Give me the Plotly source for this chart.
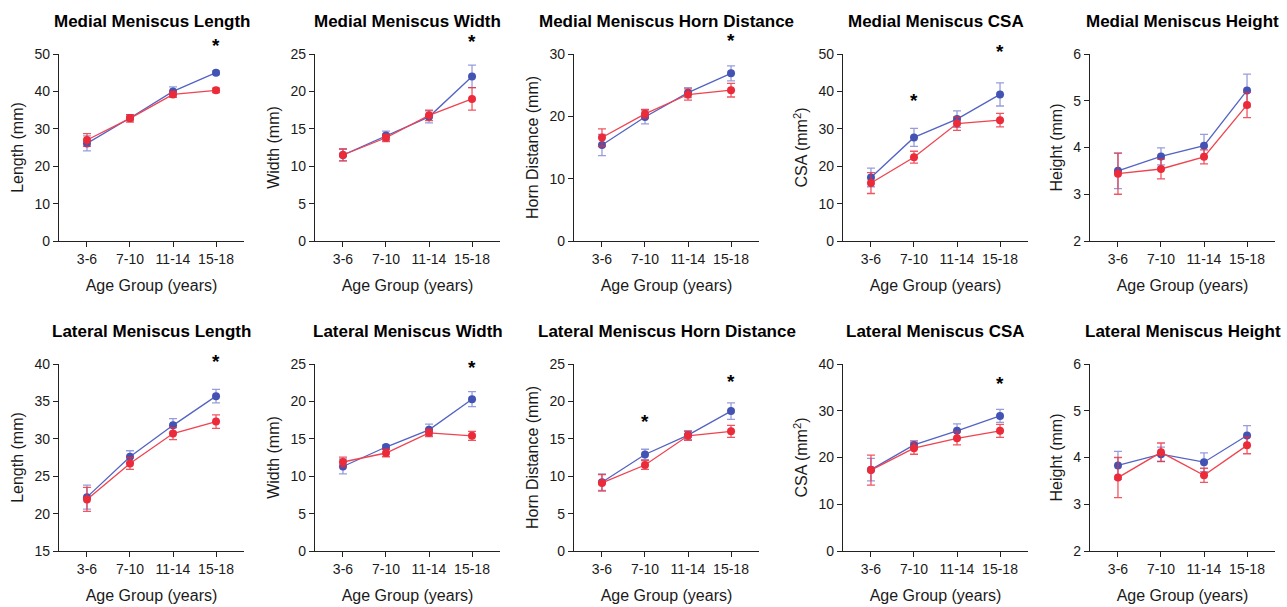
import plotly.graph_objects as go

categories = ["3-6", "7-10", "11-14", "15-18"]

titles = [
    "Medial Meniscus Length", "Medial Meniscus Width", "Medial Meniscus Horn Distance",
    "Medial Meniscus CSA", "Medial Meniscus Height",
    "Lateral Meniscus Length", "Lateral Meniscus Width", "Lateral Meniscus Horn Distance",
    "Lateral Meniscus CSA", "Lateral Meniscus Height",
]
y_titles = ["Length (mm)", "Width (mm)", "Horn Distance (mm)", "CSA (mm<sup>2</sup>)", "Height (mm)",
            "Length (mm)", "Width (mm)", "Horn Distance (mm)", "CSA (mm<sup>2</sup>)", "Height (mm)"]
x_title = "Age Group (years)"

# y-axis ranges and tick steps
y_ranges = [(0, 50), (0, 25), (0, 30), (0, 50), (2, 6),
            (15, 40), (0, 25), (0, 25), (0, 40), (2, 6)]
y_dticks = [10, 5, 10, 10, 1, 5, 5, 5, 10, 1]

# blue group: means and error
blue_mm_length = [26.1, 32.9, 40.0, 45.0]
blue_mm_length_err = [2.0, 0.8, 1.2, 0.5]
red_mm_length = [27.0, 32.8, 39.2, 40.3]
red_mm_length_err = [1.7, 1.0, 0.8, 0.6]

blue_mm_width = [11.5, 14.1, 16.6, 22.0]
blue_mm_width_err = [0.8, 0.6, 0.8, 1.5]
red_mm_width = [11.5, 13.8, 16.8, 19.0]
red_mm_width_err = [0.8, 0.5, 0.7, 1.5]

blue_mm_horn = [15.4, 19.9, 23.8, 26.9]
blue_mm_horn_err = [1.7, 1.1, 0.8, 1.2]
red_mm_horn = [16.6, 20.4, 23.5, 24.2]
red_mm_horn_err = [1.4, 0.7, 0.9, 1.1]

blue_mm_csa = [17.0, 27.7, 32.6, 39.2]
blue_mm_csa_err = [2.5, 2.4, 2.2, 3.1]
red_mm_csa = [15.5, 22.4, 31.4, 32.3]
red_mm_csa_err = [2.8, 1.6, 1.8, 1.8]

blue_mm_height = [3.50, 3.81, 4.04, 5.22]
blue_mm_height_err = [0.38, 0.18, 0.24, 0.35]
red_mm_height = [3.44, 3.54, 3.80, 4.91]
red_mm_height_err = [0.44, 0.21, 0.15, 0.27]

blue_lm_length = [22.2, 27.6, 31.8, 35.7]
blue_lm_length_err = [1.6, 0.8, 0.9, 0.9]
red_lm_length = [21.9, 26.7, 30.7, 32.3]
red_lm_length_err = [1.6, 0.8, 0.8, 0.9]

blue_lm_width = [11.3, 13.9, 16.2, 20.3]
blue_lm_width_err = [1.0, 0.3, 0.75, 1.0]
red_lm_width = [11.9, 13.1, 15.8, 15.4]
red_lm_width_err = [0.65, 0.5, 0.5, 0.6]

blue_lm_horn = [9.2, 12.9, 15.5, 18.7]
blue_lm_horn_err = [1.1, 0.7, 0.6, 1.1]
red_lm_horn = [9.1, 11.5, 15.4, 16.0]
red_lm_horn_err = [1.1, 0.6, 0.6, 0.8]

blue_lm_csa = [17.4, 22.7, 25.7, 28.9]
blue_lm_csa_err = [2.4, 0.9, 1.5, 1.4]
red_lm_csa = [17.3, 22.0, 24.1, 25.7]
red_lm_csa_err = [3.2, 1.3, 1.4, 1.4]

blue_lm_height = [3.83, 4.07, 3.90, 4.47]
blue_lm_height_err = [0.30, 0.15, 0.20, 0.21]
red_lm_height = [3.57, 4.11, 3.62, 4.26]
red_lm_height_err = [0.43, 0.20, 0.15, 0.18]

blue_means = [blue_mm_length, blue_mm_width, blue_mm_horn, blue_mm_csa, blue_mm_height,
              blue_lm_length, blue_lm_width, blue_lm_horn, blue_lm_csa, blue_lm_height]
blue_errs = [blue_mm_length_err, blue_mm_width_err, blue_mm_horn_err, blue_mm_csa_err, blue_mm_height_err,
             blue_lm_length_err, blue_lm_width_err, blue_lm_horn_err, blue_lm_csa_err, blue_lm_height_err]
red_means = [red_mm_length, red_mm_width, red_mm_horn, red_mm_csa, red_mm_height,
             red_lm_length, red_lm_width, red_lm_horn, red_lm_csa, red_lm_height]
red_errs = [red_mm_length_err, red_mm_width_err, red_mm_horn_err, red_mm_csa_err, red_mm_height_err,
            red_lm_length_err, red_lm_width_err, red_lm_horn_err, red_lm_csa_err, red_lm_height_err]

# significance markers: (panel index, category, y value)
sig_panels = [0, 1, 2, 3, 3, 5, 6, 7, 7, 8]
sig_categories = ["15-18", "15-18", "15-18", "7-10", "15-18", "15-18", "15-18", "7-10", "15-18", "15-18"]
sig_y = [53.2, 27.1, 32.6, 38.3, 51.6, 40.7, 24.9, 17.7, 23.0, 36.4]

# ---------------- layout geometry ----------------
W, H = 1287, 607
col_left = [59, 315, 574, 843, 1090]
panel_w = 185
row_top = [54, 364]
panel_h = 187

BLUE = "#4353B3"
BLUE_LINE = "#5363C3"
BLUE_ERR = "rgba(95,105,200,0.65)"
RED = "#EC2B3A"
RED_LINE = "#F0424F"
RED_ERR = "rgba(236,43,58,0.8)"
TXT = "#1a1a1a"
FONT = "Liberation Sans, Arial, sans-serif"

fig = go.Figure()
layout = dict(
    width=W, height=H, margin=dict(l=0, r=0, t=0, b=0),
    paper_bgcolor="white", plot_bgcolor="white", showlegend=False,
    font=dict(family=FONT, color=TXT, size=14),
)
annotations = []

for i in range(10):
    r, c = divmod(i, 5)
    n = "" if i == 0 else str(i + 1)
    xa, ya = "x" + n, "y" + n
    x0 = col_left[c] / W
    x1 = (col_left[c] + panel_w) / W
    y1 = 1 - row_top[r] / H
    y0 = 1 - (row_top[r] + panel_h) / H

    fig.add_trace(go.Scatter(
        x=categories, y=blue_means[i], xaxis=xa, yaxis=ya, name="blue group",
        mode="lines+markers", cliponaxis=False,
        line=dict(color=BLUE_LINE, width=1.3),
        marker=dict(color=BLUE, size=8),
        error_y=dict(type="data", array=blue_errs[i], color=BLUE_ERR, thickness=1.3, width=4),
    ))
    fig.add_trace(go.Scatter(
        x=categories, y=red_means[i], xaxis=xa, yaxis=ya, name="red group",
        mode="lines+markers", cliponaxis=False,
        line=dict(color=RED_LINE, width=1.3),
        marker=dict(color=RED, size=8),
        error_y=dict(type="data", array=red_errs[i], color=RED_ERR, thickness=1.3, width=4),
    ))

    lo, hi = y_ranges[i]
    layout["xaxis" + n] = dict(
        domain=[x0, x1], anchor=ya, type="category", range=[-0.65, 3.65],
        showline=True, linecolor="#222", linewidth=1.3, ticks="outside", ticklen=5,
        tickwidth=1.3, tickcolor="#222", showgrid=False, zeroline=False,
        tickfont=dict(size=14, color=TXT), automargin=False,
        title=dict(text=x_title, font=dict(size=16, color=TXT), standoff=13),
    )
    layout["yaxis" + n] = dict(
        domain=[y0, y1], anchor=xa, range=[lo, hi], dtick=y_dticks[i], tick0=lo,
        showline=True, linecolor="#222", linewidth=1.3, ticks="outside", ticklen=5,
        tickwidth=1.3, tickcolor="#222", showgrid=False, zeroline=False,
        tickfont=dict(size=14, color=TXT), automargin=False,
        title=dict(text=y_titles[i], font=dict(size=16, color=TXT), standoff=6),
    )
    annotations.append(dict(
        text="<b>" + titles[i] + "</b>", xref=xa + " domain", yref=ya + " domain",
        x=0.5, y=1 + 33 / panel_h, xanchor="center", yanchor="middle",
        showarrow=False, font=dict(size=17, color="black", family=FONT),
    ))

for p, cat, yv in zip(sig_panels, sig_categories, sig_y):
    n = "" if p == 0 else str(p + 1)
    lo, hi = y_ranges[p]
    annotations.append(dict(
        text="<b>*</b>", xref="x" + n, yref="y" + n + " domain", x=cat,
        y=(yv - lo) / (hi - lo),
        xanchor="center", yanchor="middle", yshift=-3, showarrow=False,
        font=dict(size=19, color="black", family=FONT),
    ))

layout["annotations"] = annotations
fig.update_layout(**layout)
fig.write_html("out.html", config={"displayModeBar": False},
               post_script="document.body.style.margin='0px';")
